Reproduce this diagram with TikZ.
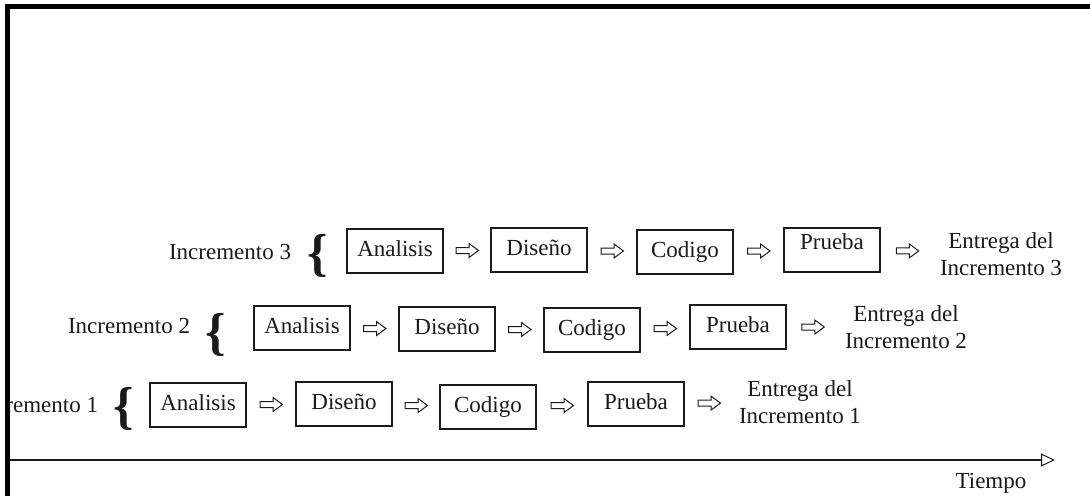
\documentclass[tikz,border=0pt]{standalone}
\usepackage{fontspec}
\setmainfont{Liberation Serif}
\usetikzlibrary{arrows.meta,calc}
\definecolor{ink}{HTML}{1A1A1A}
\begin{document}
\begin{tikzpicture}[x=1pt,y=-1pt,
  txt/.style={font=\fontsize{23}{27}\selectfont, text=ink, inner sep=0pt},
  stage/.style={txt, draw=ink, line width=1.2pt, minimum width=96pt, minimum height=44pt,
    text height=15pt, text depth=4pt},
  deliv/.style={txt, align=center},
  bracet/.style={font=\bfseries\fontsize{52}{52}\selectfont, text=ink, inner sep=0pt},
  barrow/.pic={\draw[ink, line width=1pt, fill=white, line join=miter]
     (-11,-3) -- (2,-3) -- (2,-7) -- (11.5,0) -- (2,7) -- (2,3) -- (-11,3) -- cycle;}
]
\useasboundingbox (0,0) rectangle (1090,496);
\fill[white] (0,0) rectangle (1090,496);

% ---------- Incremento 3 ----------
\node[txt] (i3) at (230,252) {Incremento 3};
\node[bracet] (b3) at (318,256) {\{};
\node[stage] (a3) at (395,251) {Analisis};
\node[stage] (d3) at (539,250) {Diseño};
\node[stage] (c3) at (685,252) {Codigo};
\node[stage] (p3) at (832,250) {\raisebox{6pt}{Prueba}};
\node[deliv] (e3) at (1001,254) {Entrega del\\Incremento 3};
\path (a3.east) -- (d3.west) pic[pos=0.5] {barrow};
\path (d3.east) -- (c3.west) pic[pos=0.5] {barrow};
\path (c3.east) -- (p3.west) pic[pos=0.5] {barrow};
\path (p3.east) -- ($(e3.west)+(0,-2)$) pic[pos=0.45] {barrow};

% ---------- Incremento 2 ----------
\node[txt] (i2) at (129,326) {Incremento 2};
\node[bracet] (b2) at (216,335) {\{};
\node[stage] (a2) at (302,328) {Analisis};
\node[stage] (d2) at (447,329) {Diseño};
\node[stage] (c2) at (592,330) {Codigo};
\node[stage] (p2) at (738,327) {Prueba};
\node[deliv] (e2) at (906,327) {Entrega del\\Incremento 2};
\path (a2.east) -- (d2.west) pic[pos=0.5] {barrow};
\path (d2.east) -- (c2.west) pic[pos=0.5] {barrow};
\path (c2.east) -- (p2.west) pic[pos=0.5] {barrow};
\path (p2.east) -- (e2.west) pic[pos=0.45] {barrow};

% ---------- Incremento 1 ----------
\begin{scope}
\clip (10,0) rectangle (1090,496);
\node[txt] (i1) at (37,405) {Incremento 1};
\end{scope}
\node[bracet] (b1) at (124,409) {\{};
\node[stage] (a1) at (198,405) {Analisis};
\node[stage] (d1) at (344,404) {Diseño};
\node[stage] (c1) at (488,407) {Codigo};
\node[stage] (p1) at (636,404) {Prueba};
\node[deliv] (e1) at (800,402) {Entrega del\\Incremento 1};
\path (a1.east) -- (d1.west) pic[pos=0.5] {barrow};
\path (d1.east) -- (c1.west) pic[pos=0.5] {barrow};
\path (c1.east) -- (p1.west) pic[pos=0.5] {barrow};
\path (p1.east) -- (e1.west) pic[pos=0.45] {barrow};

% ---------- time axis ----------
\coordinate (t0) at (10,460);
\coordinate (t1) at (1055,460);
\draw[ink, line width=1.4pt, -{Triangle[open, length=14pt, width=13pt, line width=1pt]}] (t0) -- (t1);
\node[txt] (tiempo) at (991,483) {Tiempo};

% ---------- frame ----------
\draw[black, line width=5pt, line join=miter] (7.5,496) -- (7.5,6.5) -- (1090,6.5);
\end{tikzpicture}
\end{document}
